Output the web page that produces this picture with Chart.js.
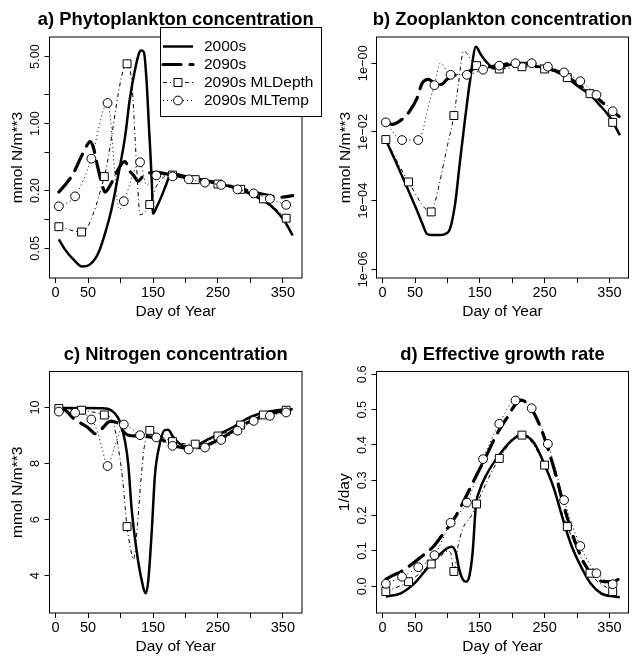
<!DOCTYPE html>
<html>
<head>
<meta charset="utf-8">
<script src="https://cdn.jsdelivr.net/npm/chart.js@4.4.1/dist/chart.umd.min.js"></script>
<style>
  body { margin: 0; background: #fff; }
  #fig { position: relative; width: 634px; height: 658px; }
  #fig canvas { position: absolute; left: 0; top: 0; }
</style>
</head>
<body>
<div id="fig">
  <canvas id="panelA" width="634" height="658"></canvas>
  <canvas id="panelB" width="634" height="658"></canvas>
  <canvas id="panelC" width="634" height="658"></canvas>
  <canvas id="panelD" width="634" height="658"></canvas>
</div>
<script>
const FONT = '"Liberation Sans", Arial, Helvetica, sans-serif';

// x axis (day of year), shared by all panels
const dayTicks = [0, 50, 100, 150, 200, 250, 300, 350];
const dayLabels = [0, 50, 150, 250, 350];
const depthMarkDays = [5, 40, 75, 110, 145, 180, 215, 250, 285, 320, 355];
const tempMarkDays = [5, 30, 55, 80, 105, 130, 155, 180, 205, 230, 255, 280, 305, 330, 355];
const seriesNames = ['2000s', '2090s', '2090s MLDepth', '2090s MLTemp'];

// a) Phytoplankton concentration
const phyDays2000 = [5, 14, 27, 41, 53, 66, 78, 86, 96, 107, 114, 122, 129, 132, 136, 140, 144, 148, 150, 155, 163, 171, 176, 182, 202, 223, 249, 274, 295, 315, 331, 346, 356, 365];
const phy2000 = [0.062, 0.049, 0.0385, 0.0323, 0.034, 0.045, 0.079, 0.127, 0.28, 0.73, 1.75, 3.58, 5.55, 5.77, 5.55, 2.82, 0.86, 0.26, 0.115, 0.132, 0.174, 0.239, 0.29, 0.30, 0.28, 0.262, 0.24, 0.215, 0.19, 0.165, 0.14, 0.11, 0.088, 0.068];
const phyDays2090 = [5, 17, 27, 40, 48, 53, 58, 63, 71, 76, 86, 96, 103, 107, 114, 120, 127, 134, 140, 155, 180, 200, 225, 250, 275, 300, 325, 345, 365];
const phy2090 = [0.193, 0.24, 0.30, 0.46, 0.59, 0.65, 0.57, 0.40, 0.24, 0.193, 0.24, 0.33, 0.39, 0.40, 0.32, 0.29, 0.25, 0.28, 0.30, 0.31, 0.29, 0.275, 0.257, 0.238, 0.217, 0.197, 0.18, 0.17, 0.177];
const phyDaysDepth = [5, 40, 75, 110, 114, 118, 122, 126, 130, 145, 155, 168, 180, 215, 250, 285, 320, 355];
const phyDepth = [0.084, 0.074, 0.28, 4.2, 3.8, 2.4, 0.8, 0.25, 0.112, 0.143, 0.22, 0.28, 0.29, 0.26, 0.234, 0.206, 0.164, 0.103];
const phyDaysTemp = [5, 30, 55, 80, 98, 105, 130, 140, 155, 180, 205, 230, 255, 280, 305, 330, 355];
const phyTemp = [0.137, 0.174, 0.43, 1.64, 0.127, 0.155, 0.395, 0.23, 0.288, 0.281, 0.262, 0.242, 0.229, 0.206, 0.187, 0.164, 0.142];
const phyTicks = [0.05, 0.1, 0.2, 0.5, 1, 2, 5];
const phyLabelVals = [0.05, 0.2, 1, 5];
const phyLabels = ['0.05', '0.20', '1.00', '5.00'];

// b) Zooplankton concentration
const zooDays2000 = [5, 20, 35, 50, 62, 68, 75, 90, 98, 104, 112, 119, 127, 135, 144, 152, 162, 173, 185, 200, 218, 235, 250, 270, 285, 305, 320, 337, 352, 366];
const zoo2000 = [5.8e-3, 1.4e-3, 3.2e-4, 7.1e-5, 2.0e-5, 1.1e-5, 1.0e-5, 1.0e-5, 1.1e-5, 1.5e-5, 8.3e-5, 1.2e-3, 0.022, 0.32, 3.0, 1.74, 1.0, 0.71, 0.79, 0.93, 0.95, 0.85, 0.72, 0.55, 0.37, 0.19, 0.12, 0.055, 0.025, 0.008];
const zooDays2090 = [5, 15, 25, 35, 43, 53, 61, 71, 80, 90, 100, 110, 120, 130, 138, 150, 165, 180, 200, 230, 250, 270, 285, 305, 320, 335, 350, 365];
const zoo2090 = [0.019, 0.0166, 0.020, 0.028, 0.044, 0.095, 0.26, 0.34, 0.26, 0.24, 0.35, 0.44, 0.48, 0.51, 0.66, 0.76, 0.79, 0.85, 1.0, 1.0, 0.74, 0.58, 0.40, 0.22, 0.138, 0.083, 0.048, 0.028];
const zooDaysDepth = [5, 40, 75, 80, 90, 100, 110, 117, 125, 135, 145, 180, 215, 250, 285, 320, 355];
const zooDepth = [6.0e-3, 3.5e-4, 4.7e-5, 7.9e-5, 5.0e-4, 4.0e-3, 0.03, 0.25, 2.3, 1.41, 0.85, 0.68, 0.79, 0.68, 0.38, 0.13, 0.019];
const zooDaysTemp = [5, 30, 55, 62, 70, 80, 89, 105, 130, 155, 180, 205, 230, 255, 280, 305, 330, 355];
const zooTemp = [0.019, 5.8e-3, 5.8e-3, 0.011, 0.05, 0.23, 1.0, 0.46, 0.46, 0.65, 0.85, 1.0, 1.0, 0.79, 0.54, 0.30, 0.12, 0.04];
const zooTicks = [1e-6, 1e-4, 1e-2, 1];
const zooLabels = ['1e\u221206', '1e\u221204', '1e\u221202', '1e\u221200'];

// c) Nitrogen concentration
const nitDays2000 = [5, 40, 70, 80, 91, 99, 107, 112, 117, 125, 132, 139, 143, 148, 153, 160, 168, 173, 181, 191, 202, 218, 233, 254, 274, 295, 315, 341, 365];
const nit2000 = [9.98, 9.98, 9.97, 9.95, 9.79, 9.49, 8.78, 7.94, 6.4, 4.85, 3.9, 3.37, 3.9, 5.57, 7.59, 8.66, 9.19, 9.2, 8.95, 8.7, 8.6, 8.65, 8.84, 9.07, 9.31, 9.6, 9.78, 9.9, 9.93];
const nitDays2090 = [5, 15, 27, 38, 48, 55, 61, 67, 74, 84, 96, 104, 112, 125, 145, 160, 180, 200, 215, 235, 255, 275, 295, 315, 335, 355, 365];
const nit2090 = [9.97, 9.9, 9.62, 9.45, 9.31, 9.17, 9.06, 9.12, 9.31, 9.5, 9.43, 9.15, 9.01, 8.98, 8.95, 8.88, 8.66, 8.55, 8.55, 8.68, 8.9, 9.18, 9.45, 9.65, 9.8, 9.88, 9.9];
const nitDaysDepth = [5, 40, 75, 87, 95, 103, 110, 116, 120, 126, 131, 136, 141, 145, 155, 168, 180, 215, 250, 285, 320, 355];
const nitDepth = [9.96, 9.9, 9.73, 9.55, 8.78, 7.47, 5.75, 4.9, 4.58, 5.8, 7.3, 8.5, 9.05, 9.18, 9.05, 8.9, 8.78, 8.69, 8.98, 9.37, 9.73, 9.9];
const nitDaysTemp = [5, 30, 55, 65, 72, 80, 92, 105, 130, 155, 180, 205, 230, 255, 280, 305, 330, 355];
const nitTemp = [9.85, 9.81, 9.57, 9.1, 8.5, 7.91, 8.7, 9.39, 9.01, 8.93, 8.63, 8.5, 8.57, 8.84, 9.17, 9.52, 9.7, 9.82];
const nitTicks = [4, 6, 8, 10];
const nitLabels = ['4', '6', '8', '10'];

// d) Effective growth rate
const grDays2000 = [5, 28, 49, 69, 90, 100, 107, 113, 118, 123, 129, 134, 139, 144, 149, 160, 180, 200, 214, 234, 249, 265, 277, 290, 306, 321, 337, 357, 366];
const gr2000 = [-0.029, -0.02, 0.008, 0.051, 0.093, 0.108, 0.112, 0.095, 0.05, 0.022, 0.013, 0.03, 0.098, 0.23, 0.268, 0.315, 0.372, 0.414, 0.429, 0.405, 0.348, 0.273, 0.197, 0.122, 0.056, 0.008, -0.02, -0.029, -0.031];
const grDays2090 = [5, 15, 28, 47, 60, 78, 90, 111, 126, 141, 157, 177, 193, 205, 214, 229, 239, 249, 265, 280, 296, 311, 326, 342, 357, 366];
const gr2090 = [0.02, 0.03, 0.041, 0.065, 0.084, 0.112, 0.14, 0.193, 0.244, 0.30, 0.358, 0.433, 0.48, 0.515, 0.527, 0.504, 0.47, 0.424, 0.33, 0.225, 0.131, 0.065, 0.027, 0.013, 0.013, 0.023];
const grDaysDepth = [5, 40, 75, 90, 100, 105, 110, 116, 124, 137, 145, 180, 215, 250, 285, 320, 355];
const grDepth = [-0.015, 0.013, 0.063, 0.085, 0.1, 0.095, 0.042, 0.11, 0.164, 0.2, 0.233, 0.362, 0.428, 0.343, 0.169, 0.037, -0.015];
const grDaysTemp = [5, 30, 55, 80, 105, 130, 155, 180, 205, 230, 255, 280, 305, 330, 355];
const grTemp = [0.007, 0.027, 0.054, 0.088, 0.18, 0.237, 0.36, 0.46, 0.526, 0.504, 0.403, 0.244, 0.114, 0.037, 0.006];
const grTicks = [0, 0.1, 0.2, 0.3, 0.4, 0.5, 0.6];
const grLabels = ['0.0', '0.1', '0.2', '0.3', '0.4', '0.5', '0.6'];


// line looks for the four runs: solid, long dash, dot-dash + squares, dotted + circles
const looks = [
  { width: 2.5, dash: [], cap: 'butt', order: 4 },
  { width: 3.2, dash: [18, 9], cap: 'round', order: 3 },
  { width: 1, dash: [4, 3, 1, 3], cap: 'butt', order: 2, style: 'rect', marks: depthMarkDays, r: 5.6 },
  { width: 1, dash: [1, 3], cap: 'butt', order: 1, style: 'circle', marks: tempMarkDays, r: 4.4 }
];

function toPoints(days, vals) {
  return days.map((d, i) => ({ x: d, y: vals[i] }));
}

function makeDataset(days, vals, look, i) {
  return {
    label: seriesNames[i],
    data: toPoints(days, vals),
    borderColor: '#000',
    borderWidth: look.width,
    borderDash: look.dash,
    borderCapStyle: look.cap,
    cubicInterpolationMode: 'monotone',
    order: look.order,
    pointStyle: look.style || 'circle',
    pointRadius: c => (look.marks && c.raw && look.marks.includes(c.raw.x)) ? look.r : 0,
    pointHoverRadius: 0,
    pointBackgroundColor: '#fff',
    pointBorderColor: '#000',
    pointBorderWidth: 1
  };
}

// draws the R style box, rotated tick labels, titles (and the legend in panel a)
function rDecor(p) {
  return {
    id: 'rdecor',
    afterDraw(chart) {
      const ctx = chart.ctx, a = chart.chartArea;
      const xs = chart.scales.x, ys = chart.scales.y;
      const midX = (a.left + a.right) / 2, midY = (a.top + a.bottom) / 2;
      ctx.save();
      ctx.strokeStyle = '#000';
      ctx.fillStyle = '#000';
      ctx.lineWidth = 1;
      ctx.setLineDash([]);
      ctx.strokeRect(a.left, a.top, a.right - a.left, a.bottom - a.top);

      ctx.textAlign = 'center';
      ctx.font = 'bold 18.4px ' + FONT;
      ctx.textBaseline = 'alphabetic';
      ctx.fillText(p.title, midX, a.top - 12);

      ctx.textBaseline = 'middle';
      ctx.font = '14.5px ' + FONT;
      dayLabels.forEach(v => ctx.fillText(String(v), xs.getPixelForValue(v), a.bottom + 15));
      ctx.font = '12.8px ' + FONT;
      p.yLabelVals.forEach((v, i) => {
        ctx.save();
        ctx.translate(p.yTickX, ys.getPixelForValue(v));
        ctx.rotate(-Math.PI / 2);
        ctx.fillText(p.yLabels[i], 0, 0);
        ctx.restore();
      });

      ctx.font = '15.5px ' + FONT;
      ctx.fillText('Day of Year', midX, a.bottom + 34);
      ctx.save();
      ctx.translate(p.yTitleX, midY);
      ctx.rotate(-Math.PI / 2);
      ctx.fillText(p.yTitle, 0, 0);
      ctx.restore();

      if (p.legend) drawLegend(ctx);
      ctx.restore();
    }
  };
}

function drawLegend(ctx) {
  const bx = 160.5, by = 27.5, bw = 161, bh = 89;
  ctx.fillStyle = '#fff';
  ctx.fillRect(bx, by, bw, bh);
  ctx.strokeStyle = '#000';
  ctx.strokeRect(bx, by, bw, bh);
  ctx.font = '15.5px ' + FONT;
  ctx.textAlign = 'left';
  ctx.textBaseline = 'middle';
  looks.forEach((lk, i) => {
    const y = 46.5 + i * 18;
    ctx.save();
    ctx.lineWidth = lk.width;
    ctx.lineCap = lk.cap;
    ctx.setLineDash(lk.dash);
    ctx.beginPath();
    ctx.moveTo(163, y);
    ctx.lineTo(193, y);
    ctx.stroke();
    ctx.setLineDash([]);
    ctx.lineWidth = 1;
    if (lk.style === 'rect') {
      const s = lk.r * Math.SQRT1_2;
      ctx.fillStyle = '#fff';
      ctx.fillRect(178 - s, y - s, 2 * s, 2 * s);
      ctx.strokeRect(178 - s, y - s, 2 * s, 2 * s);
    } else if (lk.style === 'circle') {
      ctx.fillStyle = '#fff';
      ctx.beginPath();
      ctx.arc(178, y, lk.r, 0, Math.PI * 2);
      ctx.fill();
      ctx.stroke();
    }
    ctx.restore();
    ctx.fillStyle = '#000';
    ctx.fillText(seriesNames[i], 204, y);
  });
}

function makePanel(id, p) {
  const tickGrid = { drawOnChartArea: false, color: '#000', lineWidth: 1, tickLength: 5, tickColor: '#000' };
  return new Chart(document.getElementById(id), {
    type: 'line',
    data: { datasets: p.series.map((s, i) => makeDataset(s[0], s[1], looks[i], i)) },
    options: {
      responsive: false,
      animation: false,
      events: [],
      layout: { autoPadding: false, padding: { left: p.L, top: p.T, right: 634 - p.R, bottom: 658 - p.B } },
      plugins: { legend: { display: false }, tooltip: { enabled: false } },
      scales: {
        x: {
          type: 'linear', min: -9.4, max: 379.4,
          afterBuildTicks: s => { s.ticks = dayTicks.map(v => ({ value: v })); },
          afterFit: s => { s.height = 0; s.paddingLeft = 0; s.paddingRight = 0; },
          ticks: { display: false },
          grid: tickGrid,
          border: { display: false }
        },
        y: {
          type: p.log ? 'logarithmic' : 'linear', min: p.yMin, max: p.yMax,
          afterBuildTicks: s => { s.ticks = p.yTicks.map(v => ({ value: v })); },
          afterFit: s => { s.width = 0; s.paddingTop = 0; s.paddingBottom = 0; },
          ticks: { display: false },
          grid: tickGrid,
          border: { display: false }
        }
      }
    },
    plugins: [rDecor(p)]
  });
}

makePanel('panelA', {
  title: 'a) Phytoplankton concentration', legend: true,
  L: 49.5, T: 37, R: 302, B: 278, log: true, yMin: 0.0245, yMax: 8.0,
  yTicks: phyTicks, yLabelVals: phyLabelVals, yLabels: phyLabels,
  yTitle: 'mmol N/m**3', yTickX: 35, yTitleX: 18,
  series: [[phyDays2000, phy2000], [phyDays2090, phy2090], [phyDaysDepth, phyDepth], [phyDaysTemp, phyTemp]]
});

makePanel('panelB', {
  title: 'b) Zooplankton concentration',
  L: 376.5, T: 37, R: 628.5, B: 278, log: true, yMin: 5.6e-7, yMax: 5.8,
  yTicks: zooTicks, yLabelVals: zooTicks, yLabels: zooLabels,
  yTitle: 'mmol N/m**3', yTickX: 363, yTitleX: 346,
  series: [[zooDays2000, zoo2000], [zooDays2090, zoo2090], [zooDaysDepth, zooDepth], [zooDaysTemp, zooTemp]]
});

makePanel('panelC', {
  title: 'c) Nitrogen concentration',
  L: 49.5, T: 371.5, R: 302, B: 613, log: false, yMin: 2.67, yMax: 11.28,
  yTicks: nitTicks, yLabelVals: nitTicks, yLabels: nitLabels,
  yTitle: 'mmol N/m**3', yTickX: 35, yTitleX: 18,
  series: [[nitDays2000, nit2000], [nitDays2090, nit2090], [nitDaysDepth, nitDepth], [nitDaysTemp, nitTemp]]
});

makePanel('panelD', {
  title: 'd) Effective growth rate',
  L: 376.5, T: 371.5, R: 628.5, B: 613, log: false, yMin: -0.0756, yMax: 0.608,
  yTicks: grTicks, yLabelVals: grTicks, yLabels: grLabels,
  yTitle: '1/day', yTickX: 362, yTitleX: 345,
  series: [[grDays2000, gr2000], [grDays2090, gr2090], [grDaysDepth, grDepth], [grDaysTemp, grTemp]]
});
</script>
</body>
</html>
